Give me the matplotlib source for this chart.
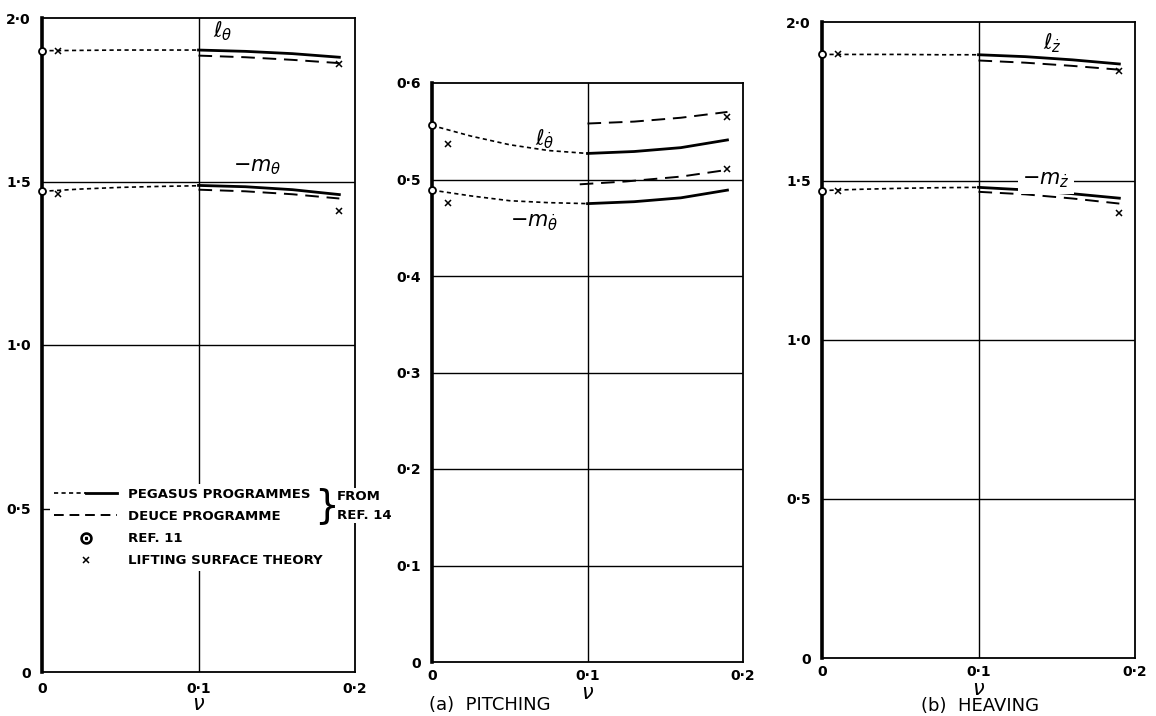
import matplotlib
matplotlib.use("Agg")
import matplotlib.pyplot as plt
from matplotlib.lines import Line2D
from matplotlib.legend_handler import HandlerTuple

# frequency parameter nu
nu_pegasus_ext = [0.0, 0.025, 0.05, 0.075, 0.1]
nu_pegasus = [0.1, 0.13, 0.16, 0.19]
nu_deuce = [0.1, 0.13, 0.16, 0.19]
nu_ref11 = [0.0]
nu_lst = [0.01, 0.19]

# (a) pitching: l_theta and -m_theta
l_theta_ext = [1.900, 1.901, 1.902, 1.902, 1.902]
l_theta_peg = [1.902, 1.898, 1.891, 1.880]
l_theta_deuce = [1.885, 1.880, 1.872, 1.862]
l_theta_ref11 = [1.900]
l_theta_lst = [1.900, 1.860]

m_theta_ext = [1.470, 1.477, 1.482, 1.485, 1.487]
m_theta_peg = [1.488, 1.484, 1.475, 1.460]
m_theta_deuce = [1.475, 1.470, 1.461, 1.448]
m_theta_ref11 = [1.470]
m_theta_lst = [1.462, 1.410]

# (a) pitching: l_thetadot and -m_thetadot
nu_deuce_mdot = [0.095, 0.125, 0.16, 0.19]
ldot_ext = [0.556, 0.545, 0.536, 0.530, 0.527]
ldot_peg = [0.527, 0.529, 0.533, 0.541]
ldot_deuce = [0.558, 0.560, 0.564, 0.570]
ldot_ref11 = [0.556]
ldot_lst = [0.537, 0.565]

mdot_ext = [0.489, 0.483, 0.478, 0.476, 0.475]
mdot_peg = [0.475, 0.477, 0.481, 0.489]
mdot_deuce = [0.495, 0.498, 0.503, 0.510]
mdot_ref11 = [0.489]
mdot_lst = [0.476, 0.511]

# (b) heaving: l_zdot and -m_zdot
lz_ext = [1.898, 1.898, 1.898, 1.897, 1.897]
lz_peg = [1.897, 1.891, 1.881, 1.868]
lz_deuce = [1.879, 1.872, 1.862, 1.850]
lz_ref11 = [1.898]
lz_lst = [1.898, 1.845]

mz_ext = [1.470, 1.474, 1.477, 1.479, 1.480]
mz_peg = [1.480, 1.472, 1.460, 1.446]
mz_deuce = [1.466, 1.458, 1.445, 1.429]
mz_ref11 = [1.470]
mz_lst = [1.470, 1.400]

x_ticks = [0.0, 0.1, 0.2]
x_ticklabels = ["0", "0·1", "0·2"]
big_ticks = [0.0, 0.5, 1.0, 1.5, 2.0]
big_ticklabels = ["0", "0·5", "1·0", "1·5", "2·0"]
small_ticks = [0.0, 0.1, 0.2, 0.3, 0.4, 0.5, 0.6]
small_ticklabels = ["0", "0·1", "0·2", "0·3", "0·4", "0·5", "0·6"]

SHORT = (0, (2.5, 2.0))
LONG = (0, (7, 4))
TICKFONT = dict(fontsize=10, fontweight="bold")

W, H = 1156, 716
fig = plt.figure(figsize=(W / 100, H / 100), dpi=100)


def px_axes(x0, x1, ytop, ybot):
    return fig.add_axes([x0 / W, 1 - ybot / H, (x1 - x0) / W, (ybot - ytop) / H])


def style(ax, yticks, ylabels, xpad, nupad):
    ax.set_xlim(0, 0.2)
    ax.set_ylim(yticks[0], yticks[-1])
    ax.set_xticks(x_ticks)
    ax.set_xticklabels(x_ticklabels, **TICKFONT)
    ax.set_yticks(yticks)
    ax.set_yticklabels(ylabels, **TICKFONT)
    ax.tick_params(axis="y", length=0, pad=8)
    ax.tick_params(axis="x", length=0, pad=xpad)
    for y in yticks[1:-1]:
        ax.axhline(y, color="black", lw=1.0, zorder=1)
    ax.axvline(0.1, color="black", lw=1.0, zorder=1)
    for side in ["top", "right", "bottom"]:
        ax.spines[side].set_linewidth(1.3)
    ax.spines["left"].set_linewidth(2.6)
    ax.set_xlabel(r"$\nu$", fontsize=15, labelpad=nupad)


def curve(ax, ext, peg, deuce, ref11, lst, nu_d=nu_deuce):
    ax.plot(nu_pegasus_ext, ext, color="black", lw=1.2, ls=SHORT, zorder=3)
    ax.plot(nu_pegasus, peg, color="black", lw=2.0, zorder=3)
    ax.plot(nu_d, deuce, color="black", lw=1.4, ls=LONG, zorder=3)
    ax.plot(nu_ref11, ref11, ls="none", marker="o", ms=5, mfc="white", mec="black", mew=1.3,
            zorder=4, clip_on=False)
    ax.plot(nu_lst, lst, ls="none", marker="x", ms=5, color="black", mew=1.1, zorder=4)


ax1 = px_axes(42, 355, 18, 672)
ax2 = px_axes(432, 743, 83, 662)
ax3 = px_axes(822, 1135, 22, 658)

style(ax1, big_ticks, big_ticklabels, 7, -1)
style(ax2, small_ticks, small_ticklabels, 5, 0)
style(ax3, big_ticks, big_ticklabels, 5, 0)

curve(ax1, l_theta_ext, l_theta_peg, l_theta_deuce, l_theta_ref11, l_theta_lst)
curve(ax1, m_theta_ext, m_theta_peg, m_theta_deuce, m_theta_ref11, m_theta_lst)
curve(ax2, ldot_ext, ldot_peg, ldot_deuce, ldot_ref11, ldot_lst)
curve(ax2, mdot_ext, mdot_peg, mdot_deuce, mdot_ref11, mdot_lst, nu_d=nu_deuce_mdot)
curve(ax3, lz_ext, lz_peg, lz_deuce, lz_ref11, lz_lst)
curve(ax3, mz_ext, mz_peg, mz_deuce, mz_ref11, mz_lst)

lab = dict(fontsize=15, color="black", zorder=6)
ax1.text(0.109, 1.94, r"$\ell_\theta$", **lab)
ax1.text(0.122, 1.53, r"$-m_\theta$", **lab)
ax2.text(0.066, 0.535, r"$\ell_{\dot\theta}$", **lab)
ax2.text(0.05, 0.450, r"$-m_{\dot\theta}$", **lab)
ax3.text(0.141, 1.915, r"$\ell_{\dot z}$", **lab)
ax3.text(0.128, 1.49, r"$-m_{\dot z}$",
         bbox=dict(facecolor="white", edgecolor="none", pad=3), **lab)

# legend in the pitching panel
h_ext = Line2D([], [], color="black", lw=1.2, ls=SHORT)
h_peg = Line2D([], [], color="black", lw=2.0)
h_deuce = Line2D([], [], color="black", lw=1.4, ls=(0, (5, 3)))
h_ref = Line2D([], [], ls="none", marker=r"$\odot$", ms=8, color="black")
h_lst = Line2D([], [], ls="none", marker="x", ms=5, color="black", mew=1.1)
leg = ax1.legend(
    [(h_ext, h_peg), h_deuce, h_ref, h_lst],
    ["PEGASUS PROGRAMMES", "DEUCE PROGRAMME", "REF. 11", "LIFTING SURFACE THEORY"],
    handler_map={tuple: HandlerTuple(ndivide=2, pad=0.0)},
    loc="upper left", bbox_to_anchor=(0.005, 0.298), frameon=True, facecolor="white",
    edgecolor="none", framealpha=1.0, handlelength=4.8, handletextpad=0.8,
    labelspacing=0.7, borderpad=0.3, prop=dict(size=9.5, weight="bold"),
)
leg.set_zorder(5)
ax1.text(0.182, 0.508, "}", fontsize=28, va="center", ha="center", zorder=6,
         bbox=dict(facecolor="white", edgecolor="none", pad=1))
ax1.text(0.1885, 0.508, "FROM\nREF. 14", fontsize=9.5, fontweight="bold", va="center",
         ha="left", zorder=7, linespacing=1.6,
         bbox=dict(facecolor="white", edgecolor="none", pad=1), clip_on=False)

fig.text(490 / W, 1 - 705 / H, "(a)  PITCHING", ha="center", va="center", fontsize=13)
fig.text(980 / W, 1 - 706 / H, "(b)  HEAVING", ha="center", va="center", fontsize=13)

fig.savefig("out.png", dpi=100)
